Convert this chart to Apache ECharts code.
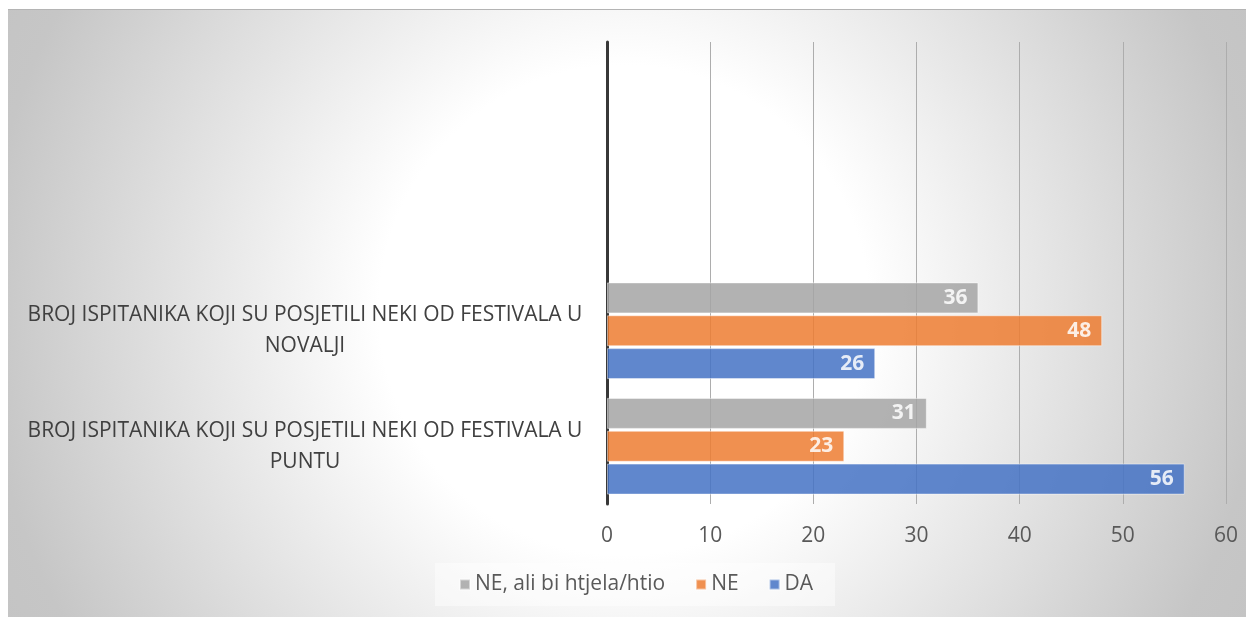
<!DOCTYPE html>
<html>
<head>
<meta charset="utf-8">
<script src="https://cdn.jsdelivr.net/npm/echarts@6/dist/echarts.min.js"></script>
<style>
  html, body { margin: 0; padding: 0; background: #fff; }
  #bg { position: absolute; left: 8px; top: 9px; width: 1238px; height: 608px;
        border-top: 1px solid #b4b4b4; box-sizing: border-box;
        background: radial-gradient(circle at 616px 300px, #ffffff 0px, #ffffff 245px, #c6c6c6 640px, #c2c2c2 760px); }
  #chart { position: absolute; left: 0; top: 0; width: 1246px; height: 619px; }
</style>
</head>
<body>
<div id="bg"></div>
<div id="chart"></div>
<script>
const categories = [
  'BROJ ISPITANIKA KOJI SU POSJETILI NEKI OD FESTIVALA U\nPUNTU',
  'BROJ ISPITANIKA KOJI SU POSJETILI NEKI OD FESTIVALA U\nNOVALJI',
  '',
  ''
];
const seriesNames = ['NE, ali bi htjela/htio', 'NE', 'DA'];
const neAliBi = [31, 36, null, null];
const ne = [23, 48, null, null];
const da = [56, 26, null, null];
const xTicks = { min: 0, max: 60, interval: 10 };

const colors = ['#A5A5A5', '#ED7D31', '#4472C4'];
const font = "'Open Sans', 'Noto Sans', sans-serif";

function mk(name, data, color) {
  return {
    name: name,
    type: 'bar',
    data: data,
    barWidth: 31,
    barGap: '6%',
    itemStyle: { color: color, opacity: 0.85, borderColor: 'rgba(255,255,255,0.55)', borderWidth: 1 },
    label: {
      show: true, position: 'insideRight', distance: 11,
      color: '#ffffff', fontWeight: 'bold', fontSize: 21, fontFamily: font
    }
  };
}

function lineLabel(idx) {
  return {
    align: 'center', margin: 302,
    verticalAlign: idx === 0 ? 'bottom' : 'top',
    fontSize: 21, color: '#404040', fontFamily: font, lineHeight: 31,
    formatter: function (v) {
      if (!v) return '';
      return v.split('\n')[idx] || '';
    }
  };
}

const chart = echarts.init(document.getElementById('chart'));
chart.setOption({
  backgroundColor: 'transparent',
  animation: false,
  grid: { left: 607, right: 20, top: 42, bottom: 115, containLabel: false },
  legend: {
    data: seriesNames,
    left: 435, top: 563,
    padding: [11, 22, 11, 24],
    backgroundColor: 'rgba(255,255,255,0.45)',
    icon: 'rect', itemWidth: 10, itemHeight: 10, itemGap: 30,
    textStyle: { fontSize: 21, color: '#595959', fontFamily: font }
  },
  xAxis: {
    type: 'value', min: xTicks.min, max: xTicks.max, interval: xTicks.interval,
    axisLine: { show: false }, axisTick: { show: false },
    splitLine: { show: true, lineStyle: { color: '#adadad', width: 1 } },
    axisLabel: { fontSize: 21, color: '#595959', margin: 22, fontFamily: font }
  },
  yAxis: [
    {
      type: 'category', data: categories, position: 'left',
      axisLine: { show: true, lineStyle: { color: '#383838', width: 3 } },
      axisTick: { show: false },
      axisLabel: lineLabel(0)
    },
    {
      type: 'category', data: categories, position: 'left', offset: 0,
      axisLine: { show: false }, axisTick: { show: false }, splitLine: { show: false },
      axisLabel: lineLabel(1)
    }
  ],
  series: [mk(seriesNames[0], neAliBi, colors[0]), mk(seriesNames[1], ne, colors[1]), mk(seriesNames[2], da, colors[2])]
});
</script>
</body>
</html>
